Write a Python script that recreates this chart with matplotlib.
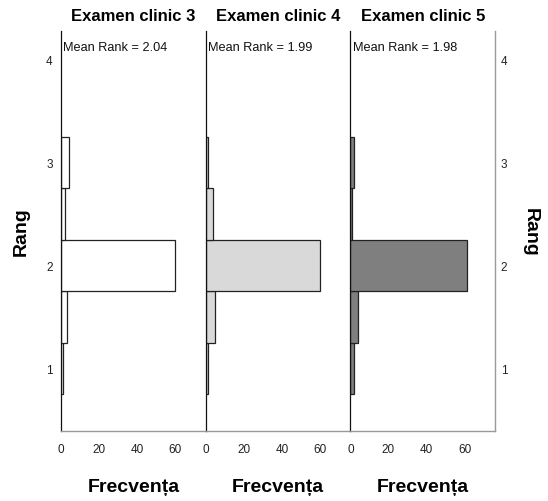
import matplotlib.pyplot as plt

plt.rcParams['font.family'] = ['Liberation Sans', 'DejaVu Sans']

ranks = [1, 1.5, 2, 2.5, 3]
counts_3 = [1, 3, 60, 2, 4]
counts_4 = [1, 5, 60, 4, 1]
counts_5 = [2, 4, 61, 1, 2]

panels = ['Examen clinic 3', 'Examen clinic 4', 'Examen clinic 5']
mean_ranks = ['2.04', '1.99', '1.98']
colors = ['#ffffff', '#d9d9d9', '#7f7f7f']
counts = [counts_3, counts_4, counts_5]

x_ticks = [0, 20, 40, 60]
y_ticks = [1, 2, 3, 4]

fig = plt.figure(figsize=(5.48, 5.02), dpi=100)

left, bottom, height = 61 / 548, 1 - 432 / 502, 400 / 502
width = 144.7 / 548

axes = []
for i in range(3):
    ax = fig.add_axes([left + i * width, bottom, width, height])
    ax.barh(ranks, counts[i], height=0.5, color=colors[i],
            edgecolor='#222222', linewidth=0.9)
    ax.set_xlim(0, 76)
    ax.set_ylim(0.39, 4.28)
    ax.set_xticks(x_ticks)
    ax.set_yticks(y_ticks)
    ax.tick_params(axis='x', length=0, pad=9, labelsize=8.5, colors='#222222')
    ax.tick_params(axis='y', length=0, labelsize=8.5, colors='#222222')

    ax.spines['top'].set_visible(False)
    ax.spines['right'].set_visible(False)
    ax.spines['left'].set_color('#111111')
    ax.spines['left'].set_linewidth(0.9)
    ax.spines['bottom'].set_color('#999999')
    ax.spines['bottom'].set_linewidth(1.0)

    ax.set_title(panels[i], fontsize=12, fontweight='bold', pad=8)
    ax.set_xlabel('Frecvența', fontsize=14, fontweight='bold', labelpad=16)
    ax.text(0.015, 0.96, 'Mean Rank = ' + mean_ranks[i], transform=ax.transAxes,
            fontsize=9.2, va='center', ha='left', color='#111111')
    axes.append(ax)

axes[0].tick_params(axis='y', pad=6)
axes[0].set_ylabel('Rang', fontsize=14, fontweight='bold', labelpad=12)

axes[1].tick_params(axis='y', labelleft=False)

ax3 = axes[2]
ax3.tick_params(axis='y', labelleft=False, labelright=True, pad=4)
ax3.spines['right'].set_visible(True)
ax3.spines['right'].set_color('#999999')
ax3.spines['right'].set_linewidth(1.0)
ax3.yaxis.set_label_position('right')
ax3.set_ylabel('Rang', fontsize=14, fontweight='bold', rotation=-90, labelpad=23)

fig.savefig('out.png', dpi=100)
